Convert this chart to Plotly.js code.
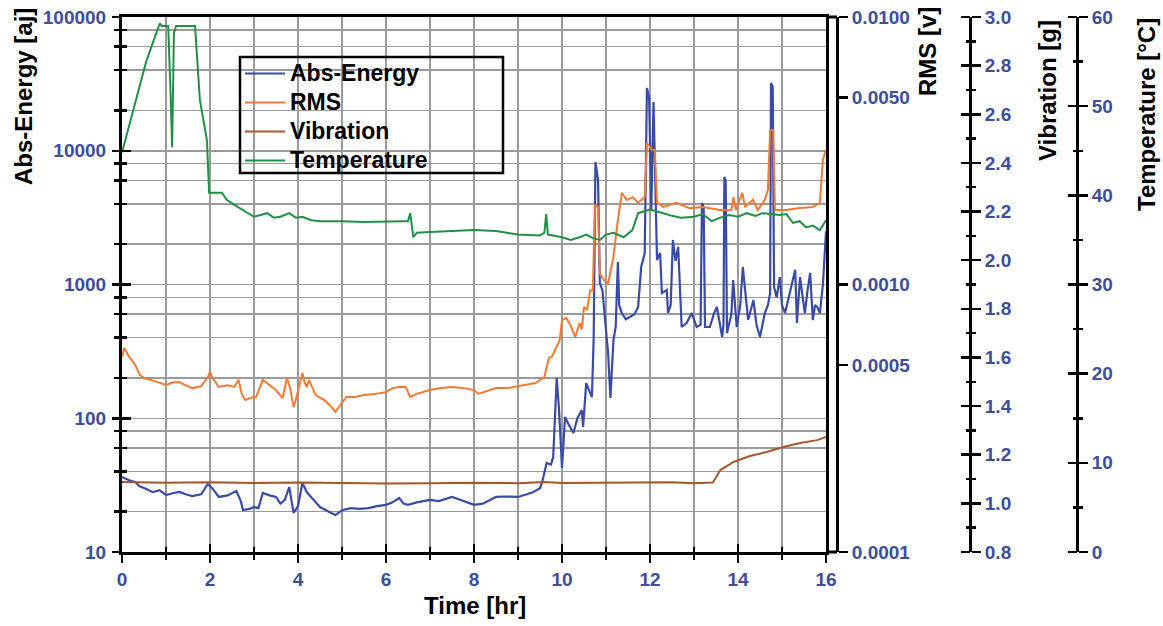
<!DOCTYPE html>
<html>
<head>
<meta charset="utf-8">
<script src="https://cdn.plot.ly/plotly-3.0.1.min.js"></script>
<style>html,body{margin:0;padding:0;background:#fff;}#chart{width:1163px;height:626px;}</style>
</head>
<body>
<div id="chart"></div>
<script>
// ---------- DATA ----------
const seriesNames = ['Abs-Energy', 'RMS', 'Vibration', 'Temperature'];

const tEnergy = [0.00,0.10,0.20,0.30,0.40,0.50,0.70,0.85,1.00,1.15,1.30,1.45,1.60,1.80,1.95,2.05,2.20,2.40,2.60,2.70,2.75,2.90,3.00,3.10,3.20,3.35,3.50,3.60,3.70,3.80,3.90,4.00,4.10,4.20,4.30,4.40,4.50,4.70,4.85,5.00,5.20,5.40,5.60,5.80,6.00,6.15,6.30,6.40,6.50,6.70,7.00,7.20,7.50,7.70,8.00,8.20,8.50,8.70,9.00,9.20,9.35,9.50,9.55,9.65,9.75,9.80,9.86,9.88,9.93,9.97,10.00,10.05,10.07,10.15,10.26,10.35,10.45,10.48,10.55,10.62,10.68,10.72,10.76,10.82,10.86,10.92,10.98,11.05,11.10,11.17,11.22,11.27,11.30,11.36,11.45,11.55,11.65,11.73,11.80,11.88,11.93,11.98,12.03,12.08,12.12,12.16,12.23,12.27,12.38,12.41,12.47,12.52,12.58,12.64,12.72,12.83,12.95,13.06,13.15,13.18,13.22,13.25,13.36,13.45,13.52,13.64,13.67,13.69,13.72,13.75,13.85,13.89,13.97,14.05,14.11,14.16,14.23,14.35,14.42,14.50,14.61,14.68,14.73,14.75,14.79,14.82,14.88,14.95,15.00,15.07,15.15,15.23,15.30,15.34,15.41,15.47,15.52,15.58,15.64,15.70,15.75,15.80,15.86,15.93,15.98,16.00];
const absEnergy = [36.4,35,34,33.4,31,30.1,28,29,26.7,27.5,28.1,27,26.2,27,32.3,30,25.8,26.5,28.6,24,20.6,21,21.7,21.3,27.6,26.5,25.8,23,24.5,30.6,19.6,22,32.8,28,25.8,24,21.7,20,18.9,20.5,21.3,21,21.3,22,22.5,23.5,25.3,23,22.5,23.5,24.5,24,25.8,24.5,22.5,23,25.8,26,25.8,27,28.1,30,33.4,46.3,45,51.3,150,200,120,60,42.5,80,102,90,77.6,100,115,86,183,160,144,400,8240,6000,1026,900,543,300,142,385,481,1473,700,612,550,571,600,679,1351,1720,29450,25000,3607,23150,5000,1524,1720,863,909,612,700,2153,1500,1906,481,515,612,481,500,4064,3800,481,481,600,679,405,500,6364,6000,434,600,1080,481,700,1351,900,543,766,500,405,612,700,860,32100,30000,957,800,1137,700,612,800,1030,1290,515,1137,800,612,900,1219,543,700,679,612,1000,2266,2500];

const tRms = [0.00,0.05,0.15,0.30,0.40,0.50,0.65,0.80,1.00,1.15,1.30,1.45,1.60,1.80,1.95,2.00,2.05,2.20,2.40,2.55,2.65,2.72,2.80,2.95,3.05,3.20,3.35,3.50,3.65,3.75,3.82,3.90,3.95,4.10,4.15,4.20,4.25,4.30,4.40,4.60,4.75,4.85,5.00,5.10,5.30,5.50,5.75,6.00,6.15,6.30,6.45,6.55,6.70,7.00,7.25,7.50,7.75,8.00,8.10,8.30,8.50,8.75,9.00,9.20,9.40,9.60,9.70,9.78,9.85,9.95,10.00,10.10,10.20,10.30,10.40,10.45,10.50,10.57,10.64,10.70,10.75,10.82,10.86,10.95,11.05,11.17,11.27,11.36,11.47,11.61,11.73,11.88,11.93,12.05,12.11,12.16,12.30,12.60,12.90,13.20,13.60,13.85,13.90,13.95,14.10,14.16,14.34,14.45,14.61,14.68,14.73,14.80,14.84,15.10,15.40,15.70,15.86,15.93,16.00];
const rms = [0.000536,0.000579,0.00054,0.0005,0.00046,0.000447,0.00044,0.000432,0.000421,0.00043,0.000432,0.00042,0.00041,0.000417,0.00045,0.000471,0.00045,0.000414,0.00042,0.000414,0.00044,0.00039,0.00037,0.000378,0.00038,0.00044,0.00042,0.000403,0.000376,0.000447,0.00041,0.000348,0.00037,0.000467,0.00043,0.000414,0.00044,0.000421,0.000386,0.00037,0.00035,0.000334,0.00036,0.00038,0.00038,0.000386,0.00039,0.000396,0.00041,0.000414,0.000414,0.00038,0.00039,0.000403,0.00041,0.000414,0.00041,0.000403,0.00039,0.0004,0.00041,0.00041,0.000417,0.00042,0.000428,0.000451,0.000531,0.00054,0.000569,0.00062,0.000736,0.00075,0.0007,0.000637,0.000718,0.00068,0.000824,0.000803,0.00095,0.00095,0.00198,0.00195,0.0011,0.00104,0.00101,0.00127,0.00174,0.0022,0.00207,0.00212,0.00202,0.00212,0.00338,0.00318,0.00318,0.00202,0.00195,0.00202,0.00193,0.00195,0.0019,0.0019,0.00212,0.0019,0.0022,0.00195,0.00207,0.0019,0.00207,0.00226,0.00378,0.00378,0.0019,0.0019,0.00193,0.00195,0.00202,0.00292,0.00318];

const tVib = [0,1,2,3,4,5,6,7,8,9,9.6,10,11,12,12.5,13,13.43,13.6,13.9,14.27,14.65,15.03,15.41,15.8,16];
const vibration = [1.088,1.085,1.087,1.084,1.086,1.083,1.082,1.083,1.085,1.083,1.088,1.084,1.084,1.086,1.087,1.083,1.086,1.137,1.17,1.195,1.211,1.232,1.248,1.26,1.273];

const tTemp = [0.00,0.20,0.41,0.55,0.70,0.86,0.90,1.05,1.10,1.14,1.18,1.23,1.66,1.77,1.93,1.98,2.27,2.38,2.60,2.84,3.00,3.15,3.30,3.45,3.60,3.80,3.95,4.10,4.30,4.50,5.00,5.50,6.00,6.40,6.50,6.55,6.62,6.70,7.00,7.50,8.00,8.50,9.00,9.50,9.60,9.64,9.68,10.00,10.20,10.40,10.55,10.70,10.86,11.00,11.17,11.40,11.60,11.73,12.00,12.30,12.50,12.70,13.00,13.20,13.40,13.60,13.80,14.00,14.20,14.40,14.55,14.75,14.95,15.10,15.25,15.40,15.55,15.70,15.86,16.00];
const temperature = [44.8,48.5,52.6,55,57.1,59.3,59.0,59.0,52,45.4,58.2,59.0,59.0,50.7,46.2,40.3,40.3,39.5,38.8,38.1,37.6,37.8,38.0,37.5,37.6,38.0,37.5,37.6,37.2,37.1,37.1,37.0,37.1,37.1,37.1,38.0,35.3,35.8,35.9,36.0,36.1,36.0,35.6,35.5,35.8,37.9,35.6,35.3,35.0,35.3,35.6,35.2,35.0,35.6,35.8,35.3,36.1,38.0,38.4,38.0,37.7,37.5,37.6,37.9,37.1,37.5,37.8,37.6,38.0,37.7,38.0,37.9,37.8,37.9,36.9,37.1,36.4,36.6,36.1,37.2];

const xTicks = [0,2,4,6,8,10,12,14,16];
const energyTicks = [10,100,1000,10000,100000];
const energyGrid = [10,20,40,60,80,100,200,400,600,800,1000,2000,4000,6000,8000,10000,20000,40000,60000,80000,100000];
const energyGridText = ['10','','','','','100','','','','','1000','','','','','10000','','','','','100000'];
const rmsTicks = [0.0001,0.0005,0.001,0.005,0.01];
const rmsTickText = ['0.0001','0.0005','0.0010','0.0050','0.0100'];
const vibTicks = [0.8,1.0,1.2,1.4,1.6,1.8,2.0,2.2,2.4,2.6,2.8,3.0];
const tempTicks = [0,10,20,30,40,50,60];

// ---------- LAYOUT HELPERS ----------
const W = 1163, H = 626, T = 17, B = 74;
const px = v => v / W;                       // paper x from pixel
const py = v => (H - B - v) / (H - T - B);   // paper y from pixel
const FONT = '"Liberation Sans", Arial, Helvetica, sans-serif';
const tickColor = '#3d4d9c';
const grid = '#9a9a9a';
const tickFont = {family: FONT, size: 19, color: tickColor, weight: 'bold'};
const titleFont = {family: FONT, size: 24, color: '#000', weight: 'bold'};

const colors = ['#3a4aa8', '#f07a32', '#a5572c', '#1f9146'];
const legendLabel = s => '<span style="font-size:23px">' + s + '</span>';

const helper = (xa, ya) => ({x: [], y: [], xaxis: xa, yaxis: ya, showlegend: false, hoverinfo: 'skip'});

const traces = [
  {x: tEnergy, y: absEnergy, name: legendLabel(seriesNames[0]), type: 'scatter', mode: 'lines', line: {color: colors[0], width: 2.2}, xaxis: 'x', yaxis: 'y'},
  {x: tRms, y: rms, name: legendLabel(seriesNames[1]), type: 'scatter', mode: 'lines', line: {color: colors[1], width: 2}, xaxis: 'x', yaxis: 'y2'},
  {x: tVib, y: vibration, name: legendLabel(seriesNames[2]), type: 'scatter', mode: 'lines', line: {color: colors[2], width: 2}, xaxis: 'x', yaxis: 'y3'},
  {x: tTemp, y: temperature, name: legendLabel(seriesNames[3]), type: 'scatter', mode: 'lines', line: {color: colors[3], width: 2}, xaxis: 'x', yaxis: 'y5'},
  // empty helper traces so the tick-only helper axes are drawn
  helper('x', 'y4'), helper('x', 'y6'), helper('x', 'y7'), helper('x', 'y8'), helper('x', 'y9'), helper('x2', 'y')
];

const xDomain = [px(122), px(826)];
const common = {zeroline: false, showgrid: false, tickcolor: '#000', tickwidth: 2.5};

const layout = {
  width: W, height: H,
  margin: {l: 0, r: 0, t: T, b: B, pad: 0},
  paper_bgcolor: '#fff', plot_bgcolor: '#fff',
  font: {family: FONT, size: 19, color: tickColor, weight: 'bold'},
  showlegend: true,
  legend: {x: px(240), y: py(54), xanchor: 'left', yanchor: 'top', bgcolor: 'rgba(0,0,0,0)', borderwidth: 0,
           font: {family: FONT, size: 20, color: '#000', weight: 'bold'}, itemwidth: 40, tracegroupgap: 0},
  xaxis: Object.assign({}, common, {
    domain: xDomain, range: [0, 16], anchor: 'y',
    tickmode: 'array', tickvals: xTicks, ticks: 'outside', ticklen: 8,
    showline: true, linewidth: 3, linecolor: '#000', mirror: true,
    showgrid: true, gridcolor: grid, gridwidth: 1.5, tickfont: tickFont,
    minor: {tick0: 0, dtick: 1, ticks: 'outside', ticklen: 5, tickwidth: 2.5, tickcolor: '#000', showgrid: true, gridcolor: grid, gridwidth: 1.5}
  }),
  xaxis2: Object.assign({}, common, {
    overlaying: 'x', domain: xDomain, range: [0, 16], anchor: 'y', side: 'bottom',
    tickmode: 'array', tickvals: xTicks, ticks: 'inside', ticklen: 8, showticklabels: false, showline: false,
    minor: {tick0: 0, dtick: 1, ticks: 'inside', ticklen: 5, tickwidth: 2.5, tickcolor: '#000'}
  }),
  // main energy axis: carries the labels and every grid line (decades and 2,4,6,8 multiples)
  yaxis: Object.assign({}, common, {
    type: 'log', range: [1, 5], anchor: 'x', side: 'left',
    tickmode: 'array', tickvals: energyGrid, ticktext: energyGridText, ticks: 'outside', ticklen: 5, ticklabelstandoff: 4,
    showline: true, linewidth: 3, linecolor: '#000', mirror: true,
    showgrid: true, gridcolor: grid, gridwidth: 1.5, tickfont: tickFont
  }),
  yaxis7: Object.assign({}, common, {
    type: 'log', range: [1, 5], overlaying: 'y', anchor: 'x', side: 'left',
    tickmode: 'array', tickvals: energyGrid, ticks: 'inside', ticklen: 5, showticklabels: false, showline: false
  }),
  yaxis8: Object.assign({}, common, {
    type: 'log', range: [1, 5], overlaying: 'y', anchor: 'x', side: 'left',
    tickmode: 'array', tickvals: energyTicks, ticks: 'outside', ticklen: 9, showticklabels: false, showline: false
  }),
  yaxis9: Object.assign({}, common, {
    type: 'log', range: [1, 5], overlaying: 'y', anchor: 'x', side: 'left',
    tickmode: 'array', tickvals: energyTicks, ticks: 'inside', ticklen: 9, showticklabels: false, showline: false
  }),
  yaxis2: Object.assign({}, common, {
    type: 'log', range: [-4, -2], overlaying: 'y', anchor: 'free', position: px(837), side: 'right',
    tickmode: 'array', tickvals: rmsTicks, ticktext: rmsTickText, ticks: 'outside', ticklen: 9,
    showline: true, linewidth: 3, linecolor: '#000', tickfont: tickFont
  }),
  yaxis3: Object.assign({}, common, {
    range: [0.8, 3.0], overlaying: 'y', anchor: 'free', position: px(970), side: 'right',
    tickmode: 'array', tickvals: vibTicks, tickformat: '.1f', ticks: 'outside', ticklen: 9,
    showline: true, linewidth: 3, linecolor: '#000', tickfont: tickFont,
    minor: {tick0: 0.9, dtick: 0.2, ticks: 'outside', ticklen: 4, tickwidth: 2.5, tickcolor: '#000'}
  }),
  yaxis4: Object.assign({}, common, {
    range: [0.8, 3.0], overlaying: 'y', anchor: 'free', position: px(970), side: 'left',
    tickmode: 'array', tickvals: vibTicks, ticks: 'outside', ticklen: 9, showticklabels: false, showline: false,
    minor: {tick0: 0.9, dtick: 0.2, ticks: 'outside', ticklen: 4, tickwidth: 2.5, tickcolor: '#000'}
  }),
  yaxis5: Object.assign({}, common, {
    range: [0, 60], overlaying: 'y', anchor: 'free', position: px(1077), side: 'right',
    tickmode: 'array', tickvals: tempTicks, ticks: 'outside', ticklen: 9,
    showline: true, linewidth: 3, linecolor: '#000', tickfont: tickFont,
    minor: {tick0: 5, dtick: 10, ticks: 'outside', ticklen: 4, tickwidth: 2.5, tickcolor: '#000'}
  }),
  yaxis6: Object.assign({}, common, {
    range: [0, 60], overlaying: 'y', anchor: 'free', position: px(1077), side: 'left',
    tickmode: 'array', tickvals: tempTicks, ticks: 'outside', ticklen: 9, showticklabels: false, showline: false,
    minor: {tick0: 5, dtick: 10, ticks: 'outside', ticklen: 4, tickwidth: 2.5, tickcolor: '#000'}
  }),
  shapes: [
    {type: 'rect', xref: 'paper', yref: 'paper', x0: px(240), x1: px(503), y0: py(173), y1: py(57), line: {color: '#000', width: 2.5}, fillcolor: 'rgba(0,0,0,0)'},
    {type: 'line', xref: 'paper', yref: 'paper', x0: px(826), x1: px(837), y0: py(17), y1: py(17), line: {color: '#000', width: 3}},
    {type: 'line', xref: 'paper', yref: 'paper', x0: px(826), x1: px(837), y0: py(552), y1: py(552), line: {color: '#000', width: 3}}
  ],
  annotations: [
    {text: 'Abs-Energy [aj]', xref: 'paper', yref: 'paper', x: px(23), y: py(97), textangle: -90, showarrow: false, xanchor: 'center', yanchor: 'middle', font: titleFont},
    {text: 'RMS [v]', xref: 'paper', yref: 'paper', x: px(927), y: py(52), textangle: -90, showarrow: false, xanchor: 'center', yanchor: 'middle', font: titleFont},
    {text: 'Vibration [g]', xref: 'paper', yref: 'paper', x: px(1047), y: py(91), textangle: -90, showarrow: false, xanchor: 'center', yanchor: 'middle', font: titleFont},
    {text: 'Temperature [°C]', xref: 'paper', yref: 'paper', x: px(1147), y: py(115), textangle: -90, showarrow: false, xanchor: 'center', yanchor: 'middle', font: titleFont},
    {text: 'Time [hr]', xref: 'paper', yref: 'paper', x: px(475), y: py(605), showarrow: false, xanchor: 'center', yanchor: 'middle', font: titleFont}
  ]
};

Plotly.newPlot('chart', traces, layout, {staticPlot: true, displayModeBar: false});
</script>
</body>
</html>
